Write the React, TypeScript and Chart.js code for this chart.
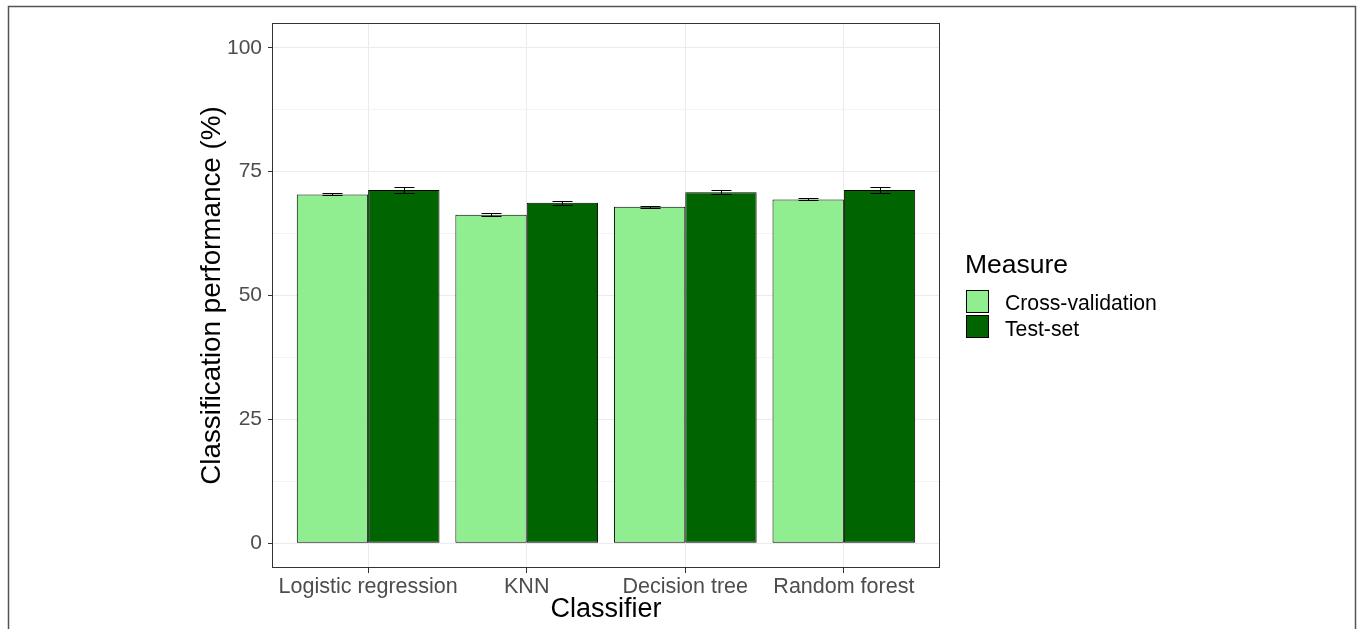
import React, { useEffect, useRef } from "react";
import { Chart, registerables } from "chart.js";

Chart.register(...registerables);

const categories = ["Logistic regression", "KNN", "Decision tree", "Random forest"];
const seriesNames = ["Cross-validation", "Test-set"];
const crossValidation = [70.4, 66.3, 67.9, 69.4];
const testSet = [71.3, 68.7, 70.85, 71.3];
const crossValidationErr = [0.2, 0.35, 0.2, 0.2];
const testSetErr = [0.7, 0.45, 0.4, 0.6];
const yMajorTicks = [0, 25, 50, 75, 100];
const yAllTicks = [0, 12.5, 25, 37.5, 50, 62.5, 75, 87.5, 100];
const legendTitle = "Measure";
const xTitle = "Classifier";
const yTitle = "Classification performance (%)";
const seriesColors = ["#90EE90", "#006400"];

const FONT = '"Liberation Sans", Arial, sans-serif';

const errorBarPlugin = {
  id: "errorBars",
  afterDatasetsDraw(chart: any) {
    const { ctx } = chart;
    const yScale = chart.scales.y;
    const errs = [crossValidationErr, testSetErr];
    const vals = [crossValidation, testSet];
    ctx.save();
    ctx.strokeStyle = "#000000";
    ctx.lineWidth = 1;
    chart.data.datasets.forEach((_: any, di: number) => {
      const meta = chart.getDatasetMeta(di);
      meta.data.forEach((el: any, i: number) => {
        const v = vals[di][i];
        const e = errs[di][i];
        const x = Math.round(el.x) + 0.5;
        const yTop = Math.round(yScale.getPixelForValue(v + e)) + 0.5;
        const yBot = Math.round(yScale.getPixelForValue(v - e)) + 0.5;
        const half = 10;
        ctx.beginPath();
        ctx.moveTo(x, yTop);
        ctx.lineTo(x, yBot);
        ctx.moveTo(x - half, yTop);
        ctx.lineTo(x + half, yTop);
        ctx.moveTo(x - half, yBot);
        ctx.lineTo(x + half, yBot);
        ctx.stroke();
      });
    });
    ctx.restore();
  },
};

const framePlugin = {
  id: "frameAndLegend",
  afterDraw(chart: any) {
    const { ctx, chartArea } = chart;
    ctx.save();
    // panel border
    ctx.strokeStyle = "#333333";
    ctx.lineWidth = 1;
    ctx.strokeRect(
      chartArea.left - 0.5,
      chartArea.top + 0.5,
      chartArea.right - chartArea.left + 1,
      chartArea.bottom - chartArea.top - 1
    );
    // outer figure border
    ctx.strokeStyle = "#555555";
    ctx.lineWidth = 1.5;
    ctx.beginPath();
    ctx.moveTo(8.5, 640);
    ctx.lineTo(8.5, 6.5);
    ctx.lineTo(1355.5, 6.5);
    ctx.lineTo(1355.5, 640);
    ctx.stroke();

    // legend
    ctx.fillStyle = "#000000";
    ctx.textAlign = "left";
    ctx.textBaseline = "alphabetic";
    ctx.font = `26.5px ${FONT}`;
    ctx.fillText(legendTitle, 965, 273);
    const keyX = 965;
    const keyYs = [289, 314];
    const textYs = [309.5, 335.5];
    ctx.font = `21.2px ${FONT}`;
    chart.data.datasets.forEach((ds: any, i: number) => {
      ctx.fillStyle = ds.backgroundColor;
      ctx.fillRect(keyX + 1, keyYs[i] + 1, 23, 23);
      ctx.strokeStyle = "#000000";
      ctx.lineWidth = 1;
      ctx.strokeRect(keyX + 1.5, keyYs[i] + 1.5, 22, 22);
      ctx.fillStyle = "#000000";
      ctx.fillText(ds.label, 1005, textYs[i]);
    });
    ctx.restore();
  },
};

export default function App() {
  const canvasRef = useRef<HTMLCanvasElement | null>(null);

  useEffect(() => {
    document.body.style.margin = "0";
    const canvas = canvasRef.current;
    if (!canvas) return;
    const chart = new Chart(canvas, {
      type: "bar",
      data: {
        datasets: [
          {
            label: seriesNames[0],
            data: categories.map((_, i) => ({ x: i + 1, y: crossValidation[i] })) as any,
            backgroundColor: seriesColors[0],
            borderColor: "#000000",
            borderWidth: 1,
            borderSkipped: false,
          },
          {
            label: seriesNames[1],
            data: categories.map((_, i) => ({ x: i + 1, y: testSet[i] })) as any,
            backgroundColor: seriesColors[1],
            borderColor: "#000000",
            borderWidth: 1,
            borderSkipped: false,
          },
        ],
      },
      options: {
        responsive: false,
        animation: false,
        devicePixelRatio: 1,
        categoryPercentage: 0.9,
        barPercentage: 1,
        layout: { padding: { left: 0, top: 23, right: 421, bottom: 0 } },
        plugins: {
          legend: { display: false },
          tooltip: { enabled: false },
        },
        scales: {
          x: {
            type: "linear",
            min: 0.4,
            max: 4.6,
            offset: false,
            afterBuildTicks: (s: any) => {
              s.ticks = categories.map((_, i) => ({ value: i + 1 }));
            },
            afterFit: (s: any) => {
              s.height = 61;
            },
            ticks: {
              autoSkip: false,
              maxRotation: 0,
              minRotation: 0,
              padding: 1,
              color: "#4D4D4D",
              font: { family: FONT, size: 21.5 },
              callback: (v: any) => categories[Math.round(Number(v)) - 1] ?? "",
            },
            grid: {
              offset: false,
              color: "#EBEBEB",
              lineWidth: 1,
              drawTicks: true,
              tickLength: 5,
              tickColor: "#333333",
            },
            border: { display: false },
            title: {
              display: true,
              text: xTitle,
              color: "#000000",
              font: { family: FONT, size: 27 },
              padding: { top: 0, bottom: 3 },
            },
          } as any,
          y: {
            type: "linear",
            min: -5,
            max: 105,
            afterBuildTicks: (s: any) => {
              s.ticks = yAllTicks.map((v) => ({ value: v }));
            },
            afterFit: (s: any) => {
              s.width = 273;
            },
            ticks: {
              autoSkip: false,
              padding: 6,
              color: "#4D4D4D",
              font: { family: FONT, size: 21 },
              callback: (v: any) => (yMajorTicks.includes(Number(v)) ? String(v) : ""),
            },
            grid: {
              color: (c: any) => (yMajorTicks.includes(c.tick?.value) ? "#EBEBEB" : "#F3F3F3"),
              lineWidth: 1,
              drawTicks: true,
              tickLength: 5,
              tickColor: (c: any) =>
                yMajorTicks.includes(c.tick?.value) ? "#333333" : "rgba(0,0,0,0)",
            },
            border: { display: false },
            title: {
              display: true,
              text: yTitle,
              color: "#000000",
              font: { family: FONT, size: 27.8 },
              padding: { top: 196, bottom: 0 },
            },
          } as any,
        },
      },
      plugins: [errorBarPlugin, framePlugin],
    });
    return () => chart.destroy();
  }, []);

  return (
    <div style={{ width: 1360, height: 629 }}>
      <canvas ref={canvasRef} width={1360} height={629} style={{ display: "block" }} />
    </div>
  );
}
